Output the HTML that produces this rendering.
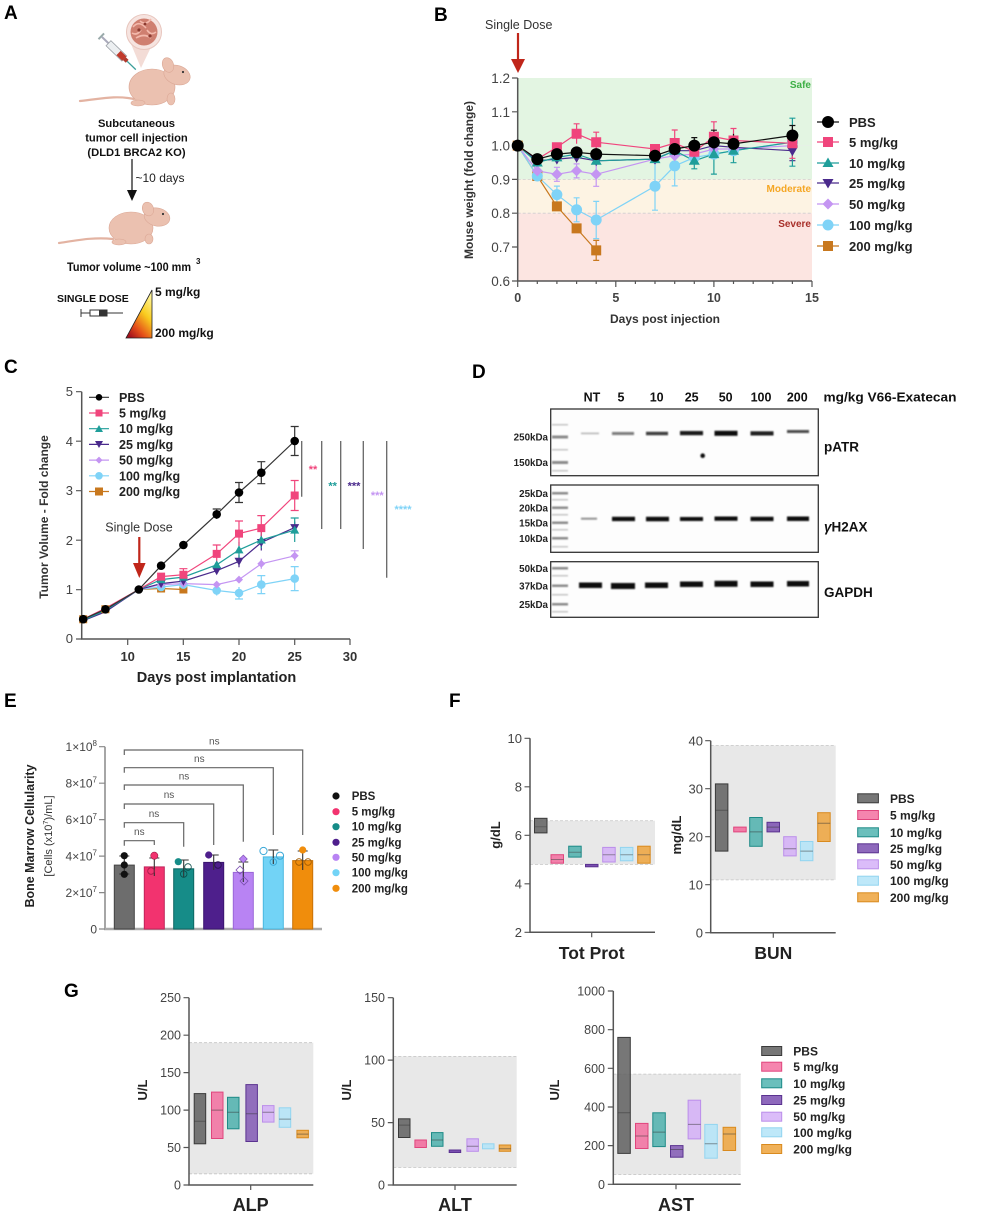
<!DOCTYPE html>
<html><head><meta charset="utf-8">
<style>
html,body{margin:0;padding:0;background:#fff;}
svg{display:block;font-family:"Liberation Sans",Arial,sans-serif;}
</style></head><body>
<svg width="983" height="1217" viewBox="0 0 983 1217" xmlns="http://www.w3.org/2000/svg">
<defs>
<linearGradient id="tri" x1="0.8" y1="0" x2="0.2" y2="1">
<stop offset="0" stop-color="#fff7a0"/><stop offset="0.4" stop-color="#f9cc1e"/><stop offset="0.75" stop-color="#e5501a"/><stop offset="1" stop-color="#a3101c"/>
</linearGradient>
<filter id="bl" x="-20%" y="-150%" width="140%" height="400%"><feGaussianBlur stdDeviation="0.9"/></filter>
</defs>

<!-- Panel letters -->
<g font-weight="bold" font-size="19" fill="#000">
<text x="4" y="19">A</text>
<text x="434" y="21">B</text>
<text x="4" y="373">C</text>
<text x="472" y="378">D</text>
<text x="4" y="707">E</text>
<text x="449" y="707">F</text>
<text x="64" y="997">G</text>
</g>

<!-- ================= PANEL A ================= -->
<g>
<path d="M131,44 L141,68 L152,45 Z" fill="#f3dcd6"/>
<circle cx="144" cy="32" r="17.5" fill="#f6e4e0" stroke="#e8c6be" stroke-width="1"/>
<circle cx="144" cy="32" r="13.5" fill="#cf7f70"/>
<path d="M133,27 q6,-7 13,1 M136,38 q8,-5 15,0 M140,21 q6,5 11,-2 M132,33 q5,3 9,-3 M147,30 q4,6 9,2" stroke="#f3b9ac" stroke-width="1.6" fill="none"/>
<circle cx="139" cy="30" r="1.6" fill="#8c3a30"/><circle cx="150" cy="36" r="1.6" fill="#8c3a30"/><circle cx="145" cy="24" r="1.4" fill="#8c3a30"/>
<!-- syringe -->
<g transform="translate(102,37) rotate(44)">
<rect x="-2" y="-4" width="2" height="8" fill="#9aa"/>
<rect x="0" y="-1" width="9" height="2" fill="#aab"/>
<rect x="9" y="-3.5" width="22" height="7" fill="#eceff1" stroke="#9a9fa5" stroke-width="0.8"/>
<rect x="23" y="-3" width="8" height="6" fill="#c0392b"/>
<rect x="31" y="-2" width="4" height="4" fill="#b03a2e"/>
<line x1="35" y1="0" x2="47" y2="0" stroke="#3a9e9a" stroke-width="1.3"/>
</g>
<!-- mouse 1 -->
<g>
<path d="M134,99 C115,95 100,99 80,101" fill="none" stroke="#e3b3a2" stroke-width="2.2" stroke-linecap="round"/>
<g fill="#ebc1b0" stroke="#dba896" stroke-width="0.6">
<ellipse cx="152" cy="87" rx="23" ry="18"/>
<ellipse cx="138" cy="103" rx="7" ry="3"/>
<ellipse cx="171" cy="99" rx="4" ry="6"/>
<ellipse cx="177" cy="75" rx="13.5" ry="9.5" transform="rotate(18 177 75)"/>
<ellipse cx="168" cy="65" rx="5.5" ry="7.5" transform="rotate(-20 168 65)"/>
</g>
<circle cx="183" cy="72" r="1.1" fill="#333"/>
</g>
<text x="136.5" y="127" font-size="11.2" font-weight="bold" text-anchor="middle" fill="#111">Subcutaneous</text>
<text x="136.5" y="141.5" font-size="11.2" font-weight="bold" text-anchor="middle" fill="#111">tumor cell injection</text>
<text x="136.5" y="156" font-size="11.2" font-weight="bold" text-anchor="middle" fill="#111">(DLD1 BRCA2 KO)</text>
<line x1="132" y1="159" x2="132" y2="192" stroke="#111" stroke-width="1.2"/>
<polygon points="127,190 137,190 132,201" fill="#111"/>
<text x="135.5" y="182" font-size="12" fill="#222">~10 days</text>
<!-- mouse 2 -->
<g transform="translate(-21,140)">
<path d="M134,99 C115,97 100,100 80,103" fill="none" stroke="#e3b3a2" stroke-width="2.2" stroke-linecap="round"/>
<g fill="#ebc1b0" stroke="#dba896" stroke-width="0.6">
<ellipse cx="152" cy="88" rx="22" ry="16"/>
<ellipse cx="140" cy="102" rx="7" ry="3"/>
<ellipse cx="170" cy="99" rx="4" ry="5"/>
<ellipse cx="178" cy="77" rx="13" ry="9" transform="rotate(12 178 77)"/>
<ellipse cx="169" cy="69" rx="5.5" ry="7" transform="rotate(-20 169 69)"/>
</g>
<circle cx="184" cy="74" r="1.1" fill="#333"/>
</g>
<text x="67" y="271" font-size="12.3" font-weight="bold" fill="#111" textLength="124" lengthAdjust="spacingAndGlyphs">Tumor volume ~100 mm</text>
<text x="196" y="264" font-size="8" font-weight="bold" fill="#111">3</text>
<text x="57" y="302" font-size="10.5" font-weight="bold" fill="#111">SINGLE DOSE</text>
<!-- small syringe -->
<g stroke="#333" stroke-width="1" fill="none">
<path d="M81,309 v8 M81,313 h9 M90,310 h17 v6 h-17 z M107,313 h16"/>
</g>
<rect x="99" y="310.5" width="8" height="5" fill="#333"/>
<polygon points="152,290 126,338 152,338" fill="url(#tri)" stroke="#222" stroke-width="0.8"/>
<text x="155" y="296" font-size="12" font-weight="bold" fill="#111">5 mg/kg</text>
<text x="155" y="337" font-size="12" font-weight="bold" fill="#111">200 mg/kg</text>
</g>

<!-- ================= PANEL B ================= -->
<g>
<text x="485" y="29" font-size="12.5" fill="#333">Single Dose</text>
<line x1="518" y1="33" x2="518" y2="62" stroke="#c0261a" stroke-width="2.2"/>
<polygon points="511,59 525,59 518,73" fill="#c0261a"/>
<rect x="517.7" y="78" width="294.3" height="101.4" fill="#e3f5e2"/>
<rect x="517.7" y="179.4" width="294.3" height="33.8" fill="#fdf3e3"/>
<rect x="517.7" y="213.2" width="294.3" height="67.8" fill="#fce5e1"/>
<path d="M517.7,179.4H812M517.7,213.2H812" stroke="#cfcfcf" stroke-width="0.8" stroke-dasharray="3,2"/>
<path d="M517.7,145.6H812" stroke="#e8f0e8" stroke-width="0.8"/>
<text x="811" y="88" font-size="10" font-weight="bold" fill="#3daf45" text-anchor="end">Safe</text>
<text x="811" y="192" font-size="10" font-weight="bold" fill="#f5a623" text-anchor="end">Moderate</text>
<text x="811" y="227" font-size="10" font-weight="bold" fill="#a8302a" text-anchor="end">Severe</text>
<path d="M517.7,78V281H812" stroke="#555" stroke-width="1.5" fill="none"/>
<path d="M512,78h5.7M512,111.8h5.7M512,145.6h5.7M512,179.4h5.7M512,213.2h5.7M512,247h5.7M512,281h5.7 M517.7,281v6M615.8,281v6M713.9,281v6M812,281v6 M537.3,281v3M556.9,281v3M576.6,281v3M596.2,281v3M635.4,281v3M655,281v3M674.7,281v3M694.3,281v3M733.5,281v3M753.2,281v3M772.8,281v3M792.4,281v3" stroke="#555" stroke-width="1.2"/>
<g font-size="13.5" fill="#444" text-anchor="end">
<text x="510" y="83">1.2</text><text x="510" y="116.8">1.1</text><text x="510" y="150.6">1.0</text><text x="510" y="184.4">0.9</text><text x="510" y="218.2">0.8</text><text x="510" y="252">0.7</text><text x="510" y="286">0.6</text>
</g>
<g font-size="12.5" font-weight="bold" fill="#444" text-anchor="middle">
<text x="517.7" y="302">0</text><text x="615.8" y="302">5</text><text x="713.9" y="302">10</text><text x="812" y="302">15</text>
</g>
<text x="665" y="323" font-size="12" font-weight="bold" fill="#333" text-anchor="middle">Days post injection</text>
<text transform="translate(473,180) rotate(-90)" font-size="12" font-weight="bold" fill="#333" text-anchor="middle">Mouse weight (fold change)</text>

<!-- series lines -->
<g fill="none" stroke-width="1.2">
<polyline stroke="#c8781e" points="517.7,145.6 537.3,176 556.9,206.4 576.6,228.4 596.2,250.4"/>
<polyline stroke="#7fd3f7" points="517.7,145.6 537.3,176 556.9,194.6 576.6,209.8 596.2,220 655,186.2 674.7,165.9 694.3,157.4 713.9,154.1 733.5,150.7 792.4,142.2"/>
<polyline stroke="#c495f2" points="517.7,145.6 537.3,170.9 556.9,174.3 576.6,170.9 596.2,174.3 655,159.1 674.7,155.7 694.3,154.1 713.9,149 733.5,149 792.4,145.6"/>
<polyline stroke="#4a2a8c" points="517.7,145.6 537.3,160.8 556.9,159.1 576.6,157.4 596.2,160.8 655,159.1 674.7,150.7 694.3,150.7 713.9,145.6 733.5,147.3 792.4,150.7"/>
<polyline stroke="#1f9e9a" points="517.7,145.6 537.3,162.5 556.9,157.4 576.6,154.1 596.2,160.8 655,159.1 674.7,150.7 694.3,160.8 713.9,154.1 733.5,150.7 792.4,142.2"/>
<polyline stroke="#f0457c" points="517.7,145.6 537.3,159.1 556.9,147.3 576.6,133.8 596.2,142.2 655,149 674.7,143 694.3,151.7 713.9,136.8 733.5,140.5 792.4,143.3"/>
<polyline stroke="#111" points="517.7,145.6 537.3,159.1 556.9,154.1 576.6,152.4 596.2,154.1 655,155.7 674.7,149 694.3,145.6 713.9,142.2 733.5,143.9 792.4,135.5"/>
</g>
<!-- error bars -->
<g fill="none" stroke-width="1.2">
<path stroke="#c8781e" d="M596.2,240.4V260.4M593.2,240.4h6M593.2,260.4h6"/>
<path stroke="#7fd3f7" d="M556.9,186.1V203.1M553.9,186.1h6M553.9,203.1h6M576.6,197.8V221.8M573.6,197.8h6M573.6,221.8h6M596.2,201.4V238.6M593.2,201.4h6M593.2,238.6h6M655,162.2V210.2M652,162.2h6M652,210.2h6M674.7,145.9V185.9M671.7,145.9h6M671.7,185.9h6"/>
<path stroke="#c495f2" d="M537.3,163.9V177.9M534.3,163.9h6M534.3,177.9h6M556.9,167.3V181.3M553.9,167.3h6M553.9,181.3h6M576.6,163.9V177.9M573.6,163.9h6M573.6,177.9h6M596.2,162.3V186.3M593.2,162.3h6M593.2,186.3h6M713.9,139V159M710.9,139h6"/>
<path stroke="#4a2a8c" d="M792.4,140.7V160.7M789.4,160.7h6"/>
<path stroke="#1f9e9a" d="M694.3,152.8V168.8M691.3,168.8h6M713.9,134.1V174.1M710.9,134.1h6M710.9,174.1h6M733.5,138.7V162.7M730.5,162.7h6M792.4,118.2V166.2M789.4,118.2h6M789.4,166.2h6"/>
<path stroke="#f0457c" d="M576.6,123.8V143.8M573.6,123.8h6M596.2,132.2V152.2M593.2,132.2h6M674.7,130V156M671.7,130h6M713.9,121.8V151.8M710.9,121.8h6M733.5,128.5V152.5M730.5,128.5h6M792.4,128.3V158.3M789.4,158.3h6"/>
<path stroke="#111" d="M655,147.7V163.7M674.7,141V157M694.3,137.6V153.6M691.3,137.6h6M713.9,130.2V154.2M710.9,130.2h6M733.5,133.9V153.9M792.4,125.5V145.5M789.4,125.5h6"/>
</g>
<!-- markers -->
<path fill="#c8781e" d="M517.7,145.6m-5,-5h10v10h-10zM537.3,176m-5,-5h10v10h-10zM556.9,206.4m-5,-5h10v10h-10zM576.6,228.4m-5,-5h10v10h-10zM596.2,250.4m-5,-5h10v10h-10z"/>
<path fill="#7fd3f7" d="M517.7,145.6m-5.5,0a5.5,5.5 0 1,0 11,0a5.5,5.5 0 1,0 -11,0M537.3,176m-5.5,0a5.5,5.5 0 1,0 11,0a5.5,5.5 0 1,0 -11,0M556.9,194.6m-5.5,0a5.5,5.5 0 1,0 11,0a5.5,5.5 0 1,0 -11,0M576.6,209.8m-5.5,0a5.5,5.5 0 1,0 11,0a5.5,5.5 0 1,0 -11,0M596.2,220m-5.5,0a5.5,5.5 0 1,0 11,0a5.5,5.5 0 1,0 -11,0M655,186.2m-5.5,0a5.5,5.5 0 1,0 11,0a5.5,5.5 0 1,0 -11,0M674.7,165.9m-5.5,0a5.5,5.5 0 1,0 11,0a5.5,5.5 0 1,0 -11,0M694.3,157.4m-5.5,0a5.5,5.5 0 1,0 11,0a5.5,5.5 0 1,0 -11,0M713.9,154.1m-5.5,0a5.5,5.5 0 1,0 11,0a5.5,5.5 0 1,0 -11,0M733.5,150.7m-5.5,0a5.5,5.5 0 1,0 11,0a5.5,5.5 0 1,0 -11,0M792.4,142.2m-5.5,0a5.5,5.5 0 1,0 11,0a5.5,5.5 0 1,0 -11,0"/>
<path fill="#c495f2" d="M537.3,170.9m0,-5.5l5.5,5.5-5.5,5.5-5.5,-5.5zM556.9,174.3m0,-5.5l5.5,5.5-5.5,5.5-5.5,-5.5zM576.6,170.9m0,-5.5l5.5,5.5-5.5,5.5-5.5,-5.5zM596.2,174.3m0,-5.5l5.5,5.5-5.5,5.5-5.5,-5.5zM655,159.1m0,-5.5l5.5,5.5-5.5,5.5-5.5,-5.5zM674.7,155.7m0,-5.5l5.5,5.5-5.5,5.5-5.5,-5.5zM694.3,154.1m0,-5.5l5.5,5.5-5.5,5.5-5.5,-5.5zM713.9,149m0,-5.5l5.5,5.5-5.5,5.5-5.5,-5.5zM733.5,149m0,-5.5l5.5,5.5-5.5,5.5-5.5,-5.5zM792.4,145.6m0,-5.5l5.5,5.5-5.5,5.5-5.5,-5.5z"/>
<path fill="#4a2a8c" d="M537.3,160.8m0,5.5l5.5,-9.5h-11zM556.9,159.1m0,5.5l5.5,-9.5h-11zM576.6,157.4m0,5.5l5.5,-9.5h-11zM596.2,160.8m0,5.5l5.5,-9.5h-11zM655,159.1m0,5.5l5.5,-9.5h-11zM674.7,150.7m0,5.5l5.5,-9.5h-11zM694.3,150.7m0,5.5l5.5,-9.5h-11zM713.9,145.6m0,5.5l5.5,-9.5h-11zM733.5,147.3m0,5.5l5.5,-9.5h-11zM792.4,150.7m0,5.5l5.5,-9.5h-11z"/>
<path fill="#1f9e9a" d="M537.3,162.5m0,-5.5l5.5,9.5h-11zM556.9,157.4m0,-5.5l5.5,9.5h-11zM576.6,154.1m0,-5.5l5.5,9.5h-11zM596.2,160.8m0,-5.5l5.5,9.5h-11zM655,159.1m0,-5.5l5.5,9.5h-11zM674.7,150.7m0,-5.5l5.5,9.5h-11zM694.3,160.8m0,-5.5l5.5,9.5h-11zM713.9,154.1m0,-5.5l5.5,9.5h-11zM733.5,150.7m0,-5.5l5.5,9.5h-11zM792.4,142.2m0,-5.5l5.5,9.5h-11z"/>
<path fill="#f0457c" d="M556.9,147.3m-5,-5h10v10h-10zM576.6,133.8m-5,-5h10v10h-10zM596.2,142.2m-5,-5h10v10h-10zM655,149m-5,-5h10v10h-10zM674.7,143m-5,-5h10v10h-10zM694.3,151.7m-5,-5h10v10h-10zM713.9,136.8m-5,-5h10v10h-10zM733.5,140.5m-5,-5h10v10h-10zM792.4,143.3m-5,-5h10v10h-10z"/>
<path fill="#000" d="M517.7,145.6m-6,0a6,6 0 1,0 12,0a6,6 0 1,0 -12,0M537.3,159.1m-6,0a6,6 0 1,0 12,0a6,6 0 1,0 -12,0M556.9,154.1m-6,0a6,6 0 1,0 12,0a6,6 0 1,0 -12,0M576.6,152.4m-6,0a6,6 0 1,0 12,0a6,6 0 1,0 -12,0M596.2,154.1m-6,0a6,6 0 1,0 12,0a6,6 0 1,0 -12,0M655,155.7m-6,0a6,6 0 1,0 12,0a6,6 0 1,0 -12,0M674.7,149m-6,0a6,6 0 1,0 12,0a6,6 0 1,0 -12,0M694.3,145.6m-6,0a6,6 0 1,0 12,0a6,6 0 1,0 -12,0M713.9,142.2m-6,0a6,6 0 1,0 12,0a6,6 0 1,0 -12,0M733.5,143.9m-6,0a6,6 0 1,0 12,0a6,6 0 1,0 -12,0M792.4,135.5m-6,0a6,6 0 1,0 12,0a6,6 0 1,0 -12,0"/>
<!-- legend B -->
<g stroke-width="1.2">
<line x1="817" y1="122" x2="839" y2="122" stroke="#111"/>
<line x1="817" y1="142" x2="839" y2="142" stroke="#f0457c"/>
<line x1="817" y1="163" x2="839" y2="163" stroke="#1f9e9a"/>
<line x1="817" y1="183" x2="839" y2="183" stroke="#4a2a8c"/>
<line x1="817" y1="204" x2="839" y2="204" stroke="#c495f2"/>
<line x1="817" y1="225" x2="839" y2="225" stroke="#7fd3f7"/>
<line x1="817" y1="246" x2="839" y2="246" stroke="#c8781e"/>
</g>
<circle cx="828" cy="122" r="6" fill="#000"/>
<rect x="823" y="137" width="10" height="10" fill="#f0457c"/>
<path d="M828,157.5l5.5,9.5h-11z" fill="#1f9e9a"/>
<path d="M828,188.5l5.5,-9.5h-11z" fill="#4a2a8c"/>
<path d="M828,198.5l5.5,5.5-5.5,5.5-5.5,-5.5z" fill="#c495f2"/>
<circle cx="828" cy="225" r="5.5" fill="#7fd3f7"/>
<rect x="823" y="241" width="10" height="10" fill="#c8781e"/>
<g font-size="13" font-weight="bold" fill="#222">
<text x="849" y="127">PBS</text><text x="849" y="147">5 mg/kg</text><text x="849" y="168">10 mg/kg</text><text x="849" y="188">25 mg/kg</text><text x="849" y="209">50 mg/kg</text><text x="849" y="230">100 mg/kg</text><text x="849" y="251">200 mg/kg</text>
</g>
</g>

<!-- ================= PANEL C ================= -->
<g>
<path d="M81.7,391.7V639H350" stroke="#555" stroke-width="1.5" fill="none"/>
<path d="M76,391.7h5.7M76,441.2h5.7M76,490.7h5.7M76,540.2h5.7M76,589.7h5.7M76,639h5.7 M127.7,639v6M183.3,639v6M239,639v6M294.7,639v6M350,639v6" stroke="#555" stroke-width="1.2"/>
<g font-size="13" fill="#444" text-anchor="end">
<text x="73" y="396">5</text><text x="73" y="446">4</text><text x="73" y="495">3</text><text x="73" y="545">2</text><text x="73" y="594">1</text><text x="73" y="643">0</text>
</g>
<g font-size="13" font-weight="bold" fill="#333" text-anchor="middle">
<text x="127.7" y="661">10</text><text x="183.3" y="661">15</text><text x="239" y="661">20</text><text x="294.7" y="661">25</text><text x="350" y="661">30</text>
</g>
<text x="216.5" y="682" font-size="14.5" font-weight="bold" fill="#222" text-anchor="middle">Days post implantation</text>
<text transform="translate(48,517) rotate(-90)" font-size="12" font-weight="bold" fill="#333" text-anchor="middle">Tumor Volume - Fold change</text>
<text x="139" y="531.5" font-size="12.5" fill="#333" text-anchor="middle">Single Dose</text>
<line x1="139.3" y1="537" x2="139.3" y2="566" stroke="#c0261a" stroke-width="2.2"/>
<polygon points="133,563 145.6,563 139.3,578" fill="#c0261a"/>

<g fill="none" stroke-width="1.2">
<polyline stroke="#c8781e" points="83.2,619.2 105.4,609.3 138.8,589.5 161.1,588.5 183.4,589.5"/>
<polyline stroke="#7fd3f7" points="83.2,620.2 105.4,610.3 138.8,589.5 161.1,587 183.4,584.6 216.7,590.5 239,593 261.3,584.6 294.7,578.6"/>
<polyline stroke="#c495f2" points="83.2,620.2 105.4,610.8 138.8,589.5 161.1,584.6 183.4,583.6 216.7,584.6 239,579.6 261.3,563.8 294.7,555.8"/>
<polyline stroke="#4a2a8c" points="83.2,620.7 105.4,611.8 138.8,589.5 161.1,583.6 183.4,581.1 216.7,570.7 239,561.3 261.3,542.5 294.7,527.6"/>
<polyline stroke="#1f9e9a" points="83.2,620.2 105.4,610.3 138.8,589.5 161.1,579.6 183.4,577.1 216.7,564.8 239,549.9 261.3,540 294.7,530.1"/>
<polyline stroke="#f0457c" points="83.2,619.2 105.4,608.3 138.8,589.5 161.1,576.6 183.4,574.7 216.7,553.9 239,533.6 261.3,528.1 294.7,495.5"/>
<polyline stroke="#333" points="83.2,619.2 105.4,609.3 138.8,589.5 161.1,565.7 183.4,545 216.7,514.3 239,492.5 261.3,472.7 294.7,441"/>
</g>
<g fill="none" stroke-width="1.2">
<path stroke="#7fd3f7" d="M216.7,585.5V595.5M239,587V599M235,599h8M261.3,575.6V593.6M257.3,575.6h8M257.3,593.6h8M294.7,566.6V590.6M290.7,566.6h8M290.7,590.6h8"/>
<path stroke="#c495f2" d="M261.3,558.8V568.8M294.7,550.8V560.8M290.7,550.8h8"/>
<path stroke="#4a2a8c" d="M239,555.3V567.3M261.3,534.5V550.5M294.7,521.6V533.6"/>
<path stroke="#1f9e9a" d="M239,541.9V557.9M261.3,532V548M294.7,518V542M290.7,518h8"/>
<path stroke="#f0457c" d="M183.4,568.7V580.7M179.4,568.7h8M216.7,545V563M212.7,545h8M239,521V546M235,521h8M261.3,515.6V540.6M257.3,515.6h8M294.7,480.5V510.5M290.7,480.5h8M290.7,510.5h8"/>
<path stroke="#333" d="M216.7,509V519M212.7,509h8M239,482.5V502.5M235,482.5h8M235,502.5h8M261.3,461.7V483.7M257.3,461.7h8M257.3,483.7h8M294.7,426.5V455.5M290.7,426.5h8M290.7,455.5h8"/>
</g>
<path fill="#c8781e" d="M83.2,619.2m-4,-4h8v8h-8zM105.4,609.3m-4,-4h8v8h-8zM161.1,588.5m-4,-4h8v8h-8zM183.4,589.5m-4,-4h8v8h-8z"/>
<path fill="#7fd3f7" d="M161.1,587m-4.3,0a4.3,4.3 0 1,0 8.6,0a4.3,4.3 0 1,0 -8.6,0M183.4,584.6m-4.3,0a4.3,4.3 0 1,0 8.6,0a4.3,4.3 0 1,0 -8.6,0M216.7,590.5m-4.3,0a4.3,4.3 0 1,0 8.6,0a4.3,4.3 0 1,0 -8.6,0M239,593m-4.3,0a4.3,4.3 0 1,0 8.6,0a4.3,4.3 0 1,0 -8.6,0M261.3,584.6m-4.3,0a4.3,4.3 0 1,0 8.6,0a4.3,4.3 0 1,0 -8.6,0M294.7,578.6m-4.3,0a4.3,4.3 0 1,0 8.6,0a4.3,4.3 0 1,0 -8.6,0"/>
<path fill="#c495f2" d="M161.1,584.6m0,-4l4,4-4,4-4,-4zM183.4,583.6m0,-4l4,4-4,4-4,-4zM216.7,584.6m0,-4l4,4-4,4-4,-4zM239,579.6m0,-4l4,4-4,4-4,-4zM261.3,563.8m0,-4l4,4-4,4-4,-4zM294.7,555.8m0,-4l4,4-4,4-4,-4z"/>
<path fill="#4a2a8c" d="M161.1,583.6m0,4.5l4.5,-8h-9zM183.4,581.1m0,4.5l4.5,-8h-9zM216.7,570.7m0,4.5l4.5,-8h-9zM239,561.3m0,4.5l4.5,-8h-9zM261.3,542.5m0,4.5l4.5,-8h-9zM294.7,527.6m0,4.5l4.5,-8h-9z"/>
<path fill="#1f9e9a" d="M161.1,579.6m0,-4.5l4.5,8h-9zM183.4,577.1m0,-4.5l4.5,8h-9zM216.7,564.8m0,-4.5l4.5,8h-9zM239,549.9m0,-4.5l4.5,8h-9zM261.3,540m0,-4.5l4.5,8h-9zM294.7,530.1m0,-4.5l4.5,8h-9z"/>
<path fill="#f0457c" d="M161.1,576.6m-4,-4h8v8h-8zM183.4,574.7m-4,-4h8v8h-8zM216.7,553.9m-4,-4h8v8h-8zM239,533.6m-4,-4h8v8h-8zM261.3,528.1m-4,-4h8v8h-8zM294.7,495.5m-4,-4h8v8h-8z"/>
<path fill="#000" d="M83.2,619.2m-4.3,0a4.3,4.3 0 1,0 8.6,0a4.3,4.3 0 1,0 -8.6,0M105.4,609.3m-4.3,0a4.3,4.3 0 1,0 8.6,0a4.3,4.3 0 1,0 -8.6,0M138.8,589.5m-4.3,0a4.3,4.3 0 1,0 8.6,0a4.3,4.3 0 1,0 -8.6,0M161.1,565.7m-4.3,0a4.3,4.3 0 1,0 8.6,0a4.3,4.3 0 1,0 -8.6,0M183.4,545m-4.3,0a4.3,4.3 0 1,0 8.6,0a4.3,4.3 0 1,0 -8.6,0M216.7,514.3m-4.3,0a4.3,4.3 0 1,0 8.6,0a4.3,4.3 0 1,0 -8.6,0M239,492.5m-4.3,0a4.3,4.3 0 1,0 8.6,0a4.3,4.3 0 1,0 -8.6,0M261.3,472.7m-4.3,0a4.3,4.3 0 1,0 8.6,0a4.3,4.3 0 1,0 -8.6,0M294.7,441m-4.3,0a4.3,4.3 0 1,0 8.6,0a4.3,4.3 0 1,0 -8.6,0"/>
<!-- legend C -->
<g stroke-width="1.2">
<line x1="89" y1="397.3" x2="109" y2="397.3" stroke="#333"/>
<line x1="89" y1="413" x2="109" y2="413" stroke="#f0457c"/>
<line x1="89" y1="428.7" x2="109" y2="428.7" stroke="#1f9e9a"/>
<line x1="89" y1="444.4" x2="109" y2="444.4" stroke="#4a2a8c"/>
<line x1="89" y1="460.1" x2="109" y2="460.1" stroke="#c495f2"/>
<line x1="89" y1="475.8" x2="109" y2="475.8" stroke="#7fd3f7"/>
<line x1="89" y1="491.5" x2="109" y2="491.5" stroke="#c8781e"/>
</g>
<circle cx="99" cy="397.3" r="3.3" fill="#000"/>
<rect x="95.5" y="409.5" width="7" height="7" fill="#f0457c"/>
<path d="M99,425l4,7h-8z" fill="#1f9e9a"/>
<path d="M99,448l4,-7h-8z" fill="#4a2a8c"/>
<path d="M99,456.6l3.5,3.5-3.5,3.5-3.5,-3.5z" fill="#c495f2"/>
<circle cx="99" cy="475.8" r="3.8" fill="#7fd3f7"/>
<rect x="95" y="487.5" width="8" height="8" fill="#c8781e"/>
<g font-size="12.5" font-weight="bold" fill="#222">
<text x="119" y="402">PBS</text><text x="119" y="417.5">5 mg/kg</text><text x="119" y="433.2">10 mg/kg</text><text x="119" y="448.9">25 mg/kg</text><text x="119" y="464.6">50 mg/kg</text><text x="119" y="480.3">100 mg/kg</text><text x="119" y="496">200 mg/kg</text>
</g>
<!-- significance -->
<path d="M301.7,441V496.7M321.7,441V529M340.7,441V529M363.3,441V549M386.7,441V577.7" stroke="#666" stroke-width="1.3"/>
<g font-size="11" font-weight="bold" text-anchor="middle">
<text x="313" y="473" fill="#f0457c">**</text>
<text x="332.7" y="489.7" fill="#1f9e9a">**</text>
<text x="354" y="489.7" fill="#4a2a8c">***</text>
<text x="377.3" y="499" fill="#c495f2">***</text>
<text x="403" y="513" fill="#7fd3f7">****</text>
</g>
</g>

<!-- ================= PANEL D ================= -->
<g>
<g font-size="12.5" font-weight="bold" fill="#111" text-anchor="middle">
<text x="592" y="401.5">NT</text><text x="621" y="401.5">5</text><text x="656.7" y="401.5">10</text><text x="691.7" y="401.5">25</text><text x="725.7" y="401.5">50</text><text x="761" y="401.5">100</text><text x="797.3" y="401.5">200</text>
</g>
<text x="823.5" y="401.5" font-size="12.5" font-weight="bold" fill="#111" textLength="133" lengthAdjust="spacingAndGlyphs">mg/kg V66-Exatecan</text>
<rect x="550.7" y="409" width="267.6" height="66.7" fill="#fdfdfd" stroke="#333" stroke-width="1.3"/>
<rect x="550.7" y="485" width="267.6" height="67.3" fill="#fdfdfd" stroke="#333" stroke-width="1.3"/>
<rect x="550.7" y="561.7" width="267.6" height="55.6" fill="#fdfdfd" stroke="#333" stroke-width="1.3"/>
<g fill="#8a8a8a" filter="url(#bl)">
<rect x="552" y="435.5" width="16" height="3"/><rect x="552" y="461" width="16" height="3"/><rect x="552" y="424" width="16" height="1.5" opacity="0.5"/><rect x="552" y="449" width="16" height="1.5" opacity="0.5"/><rect x="552" y="470" width="16" height="1.5" opacity="0.5"/>
<rect x="552" y="492" width="16" height="2.5"/><rect x="552" y="506.5" width="16" height="2.5"/><rect x="552" y="521.5" width="16" height="2.5"/><rect x="552" y="537" width="16" height="2.5"/><rect x="552" y="499" width="16" height="1.5" opacity="0.5"/><rect x="552" y="514" width="16" height="1.5" opacity="0.5"/><rect x="552" y="529" width="16" height="1.5" opacity="0.5"/><rect x="552" y="546" width="16" height="1.5" opacity="0.5"/>
<rect x="552" y="567" width="16" height="2.5"/><rect x="552" y="584.5" width="16" height="2.5"/><rect x="552" y="603" width="16" height="2.5"/><rect x="552" y="575" width="16" height="1.5" opacity="0.5"/><rect x="552" y="594" width="16" height="1.5" opacity="0.5"/><rect x="552" y="611" width="16" height="1.5" opacity="0.5"/>
</g>
<g fill="#111" filter="url(#bl)">
<rect x="581" y="432.5" width="18" height="1.8" opacity="0.25"/>
<rect x="612" y="432" width="22" height="3" opacity="0.55"/>
<rect x="646" y="431.8" width="22" height="3.4" opacity="0.8"/>
<rect x="680" y="431" width="23" height="4.2" opacity="0.95"/>
<rect x="714.5" y="430.8" width="23" height="5"/>
<rect x="750.5" y="431.3" width="23" height="4.2" opacity="0.92"/>
<rect x="787" y="430" width="22" height="3" opacity="0.75"/>
<circle cx="702.7" cy="455.7" r="2.3"/>
<rect x="581" y="517.8" width="16" height="1.8" opacity="0.5"/>
<rect x="612" y="516.8" width="23" height="4.3"/>
<rect x="646" y="516.8" width="23" height="4.5"/>
<rect x="680" y="517" width="23" height="4"/>
<rect x="714.5" y="516.5" width="23" height="4.3"/>
<rect x="750.5" y="516.8" width="23" height="4.3"/>
<rect x="787" y="516.5" width="22" height="4.5"/>
<rect x="579" y="582.5" width="23" height="5.5"/>
<rect x="611" y="583" width="24" height="6"/>
<rect x="645" y="582.5" width="23" height="5.5"/>
<rect x="680" y="581.5" width="23" height="5.5"/>
<rect x="714.5" y="580.8" width="23" height="6"/>
<rect x="750.5" y="581.5" width="23" height="5.5"/>
<rect x="787" y="581" width="22" height="5.5"/>
</g>
<g font-size="9.8" font-weight="bold" fill="#222" text-anchor="end">
<text x="548" y="440.5">250kDa</text><text x="548" y="466">150kDa</text>
<text x="548" y="497">25kDa</text><text x="548" y="511.5">20kDa</text><text x="548" y="526.5">15kDa</text><text x="548" y="542">10kDa</text>
<text x="548" y="572">50kDa</text><text x="548" y="589.5">37kDa</text><text x="548" y="608">25kDa</text>
</g>
<g font-size="13.5" font-weight="bold" fill="#111">
<text x="824" y="451.5">pATR</text><text x="824" y="531.5"><tspan font-style="italic">γ</tspan>H2AX</text><text x="824" y="597">GAPDH</text>
</g>
</g>

<!-- ================= PANEL E ================= -->
<g>
<path d="M105,746.7V929" stroke="#888" stroke-width="1.5"/>
<path d="M104,929H322" stroke="#aaa" stroke-width="2.5"/>
<path d="M99,746.7h6M99,783.2h6M99,819.6h6M99,856.1h6M99,892.6h6M99,929h6" stroke="#888" stroke-width="1.2"/>
<g font-size="12" fill="#444" text-anchor="end">
<text x="97" y="751">1×10<tspan font-size="8" dy="-5">8</tspan></text>
<text x="97" y="787.5">8×10<tspan font-size="8" dy="-5">7</tspan></text>
<text x="97" y="824">6×10<tspan font-size="8" dy="-5">7</tspan></text>
<text x="97" y="860.5">4×10<tspan font-size="8" dy="-5">7</tspan></text>
<text x="97" y="897">2×10<tspan font-size="8" dy="-5">7</tspan></text>
<text x="97" y="933.5">0</text>
</g>
<text transform="translate(34,836) rotate(-90)" font-size="12.5" font-weight="bold" fill="#222" text-anchor="middle">Bone Marrow Cellularity</text>
<text transform="translate(52,836) rotate(-90)" font-size="11" fill="#333" text-anchor="middle">[Cells (x10<tspan font-size="7.5" dy="-4">7</tspan><tspan dy="4">)/mL]</tspan></text>
<g stroke-width="1">
<rect x="114.3" y="865.1" width="20" height="63.9" fill="#6d6d6d" stroke="#444"/>
<rect x="144.3" y="866.9" width="20" height="62.1" fill="#f2336f" stroke="#c0245a"/>
<rect x="173.7" y="868.8" width="20" height="60.2" fill="#168c88" stroke="#0d6663"/>
<rect x="203.7" y="862.4" width="20" height="66.6" fill="#4e1f8c" stroke="#3a1570"/>
<rect x="233.3" y="872.4" width="20" height="56.6" fill="#b883f3" stroke="#9a66d8"/>
<rect x="263.3" y="856.9" width="20" height="72.1" fill="#72d3f6" stroke="#4bb8e0"/>
<rect x="292.7" y="860.6" width="20" height="68.4" fill="#f08d0c" stroke="#c87208"/>
</g>
<path d="M124.3,856V874M119.3,856h10M119.3,874h10M154.3,858V876M149.3,858h10M183.7,860V877M178.7,860h10M213.7,855V870M208.7,855h10M243.3,862V882M238.3,862h10M273.3,850V864M268.3,850h10M302.7,851V870M297.7,851h10" stroke="#333" stroke-width="1.1" fill="none"/>
<g>
<circle cx="124.3" cy="855.7" r="3.6" fill="#111"/><circle cx="124.3" cy="865" r="3.6" fill="#111"/><circle cx="124.3" cy="874.3" r="3.6" fill="#111"/>
<circle cx="154.3" cy="855.7" r="3.6" fill="#f2336f" stroke="#a01a48" stroke-width="0.6"/><circle cx="151" cy="871" r="3.3" fill="none" stroke="#a01a48" stroke-width="0.8"/>
<circle cx="178.3" cy="861.7" r="3.6" fill="#168c88"/><circle cx="188" cy="867" r="3.3" fill="none" stroke="#0a4c4a" stroke-width="0.8"/><circle cx="183.7" cy="874" r="3.3" fill="none" stroke="#0a4c4a" stroke-width="0.8"/>
<circle cx="208.7" cy="855" r="3.6" fill="#4e1f8c"/><circle cx="218" cy="865" r="3.3" fill="none" stroke="#2a0f50" stroke-width="0.8"/>
<path d="M243.3,855l4,4-4,4-4,-4z" fill="#b883f3" stroke="#7a4cb0" stroke-width="0.6"/><path d="M240,866l4,4-4,4-4,-4z M244,877l4,4-4,4-4,-4z" fill="none" stroke="#7a4cb0" stroke-width="0.8"/>
<circle cx="263.5" cy="851" r="3.6" fill="none" stroke="#3aa8d8" stroke-width="1"/><circle cx="280" cy="855.7" r="3.6" fill="none" stroke="#3aa8d8" stroke-width="1"/><circle cx="273.3" cy="862" r="3.3" fill="none" stroke="#3aa8d8" stroke-width="1"/>
<circle cx="302.7" cy="850" r="3.6" fill="#f08d0c"/><circle cx="299" cy="862" r="3.3" fill="none" stroke="#a05a00" stroke-width="0.8"/><circle cx="308" cy="862" r="3.3" fill="none" stroke="#a05a00" stroke-width="0.8"/>
</g>
<g stroke="#666" stroke-width="1.2" fill="none">
<path d="M124.3,845.7V840.7H154.3V845"/>
<path d="M124.3,827.7V822.7H183.7V846.7"/>
<path d="M124.3,809V804H213.7V845"/>
<path d="M124.3,790V785H243.3V841.7"/>
<path d="M124.3,772.7V767.7H273.3V835"/>
<path d="M124.3,755V750H302.7V835"/>
</g>
<g font-size="10" fill="#555" text-anchor="middle">
<text x="139.3" y="835">ns</text><text x="154" y="817">ns</text><text x="169" y="798">ns</text><text x="184" y="779.5">ns</text><text x="199.3" y="762">ns</text><text x="214.3" y="744.5">ns</text>
</g>
<circle cx="336" cy="796" r="3.6" fill="#111"/>
<circle cx="336" cy="811.7" r="3.6" fill="#f2336f"/>
<circle cx="336" cy="826.7" r="3.6" fill="#168c88"/>
<circle cx="336" cy="842.3" r="3.6" fill="#4e1f8c"/>
<circle cx="336" cy="857.3" r="3.6" fill="#b883f3"/>
<circle cx="336" cy="872.7" r="3.6" fill="#72d3f6"/>
<circle cx="336" cy="888.3" r="3.6" fill="#f08d0c"/>
<g font-size="11.5" font-weight="bold" fill="#222">
<text x="351.7" y="800">PBS</text><text x="351.7" y="815.7">5 mg/kg</text><text x="351.7" y="830.7">10 mg/kg</text><text x="351.7" y="846.3">25 mg/kg</text><text x="351.7" y="861.3">50 mg/kg</text><text x="351.7" y="876.7">100 mg/kg</text><text x="351.7" y="892.3">200 mg/kg</text>
</g>
</g>

<!-- ================= PANEL F ================= -->
<g>
<!-- Tot Prot -->
<rect x="530" y="820.75" width="125" height="43.65" fill="#e8e8e8"/>
<path d="M530,820.75H655M530,864.4H655" stroke="#c4c4c4" stroke-width="0.8" stroke-dasharray="3,2"/>
<path d="M530,738.3V932.3H655" stroke="#555" stroke-width="1.5" fill="none"/>
<path d="M524.5,738.3h5.5M524.5,786.8h5.5M524.5,835.3h5.5M524.5,883.8h5.5M524.5,932.3h5.5M591.7,932.3v5" stroke="#555" stroke-width="1.2"/>
<g font-size="13" fill="#444" text-anchor="end">
<text x="522" y="743">10</text><text x="522" y="791.5">8</text><text x="522" y="840">6</text><text x="522" y="888.5">4</text><text x="522" y="937">2</text>
</g>
<text transform="translate(500,835) rotate(-90)" font-size="13" font-weight="bold" fill="#222" text-anchor="middle">g/dL</text>
<text x="591.7" y="959" font-size="17.5" font-weight="bold" fill="#222" text-anchor="middle">Tot Prot</text>
<!-- BUN -->
<rect x="710.7" y="745.5" width="125" height="134.4" fill="#e8e8e8"/>
<path d="M710.7,745.5H835.7M710.7,879.9H835.7" stroke="#c4c4c4" stroke-width="0.8" stroke-dasharray="3,2"/>
<path d="M710.7,740.7V932.7H835.7" stroke="#555" stroke-width="1.5" fill="none"/>
<path d="M705.2,740.7h5.5M705.2,788.7h5.5M705.2,836.7h5.5M705.2,884.7h5.5M705.2,932.7h5.5M773.3,932.7v5" stroke="#555" stroke-width="1.2"/>
<g font-size="13" fill="#444" text-anchor="end">
<text x="703" y="745.5">40</text><text x="703" y="793.5">30</text><text x="703" y="841.5">20</text><text x="703" y="889.5">10</text><text x="703" y="937.5">0</text>
</g>
<text transform="translate(681,835) rotate(-90)" font-size="13" font-weight="bold" fill="#222" text-anchor="middle">mg/dL</text>
<text x="773.3" y="959" font-size="17.5" font-weight="bold" fill="#222" text-anchor="middle">BUN</text>
<!-- boxes Tot Prot -->
<g stroke-width="1">
<rect x="534.5" y="818.3" width="12.5" height="14.6" fill="#5f5f5f" fill-opacity="0.85" stroke="#3a3a3a"/>
<rect x="551" y="854.7" width="12.5" height="8.5" fill="#f2679a" fill-opacity="0.8" stroke="#e0457d"/>
<rect x="568.7" y="846.2" width="12.5" height="10.9" fill="#3aa9a6" fill-opacity="0.75" stroke="#1d8a87"/>
<rect x="585.5" y="864.4" width="12.5" height="2.4" fill="#7a4fb0" stroke="#5a3290"/>
<rect x="602.7" y="847.4" width="12.5" height="14.6" fill="#d2abf8" fill-opacity="0.8" stroke="#bb8eea"/>
<rect x="620.4" y="847.4" width="12.5" height="13.4" fill="#b3e4f8" fill-opacity="0.85" stroke="#92d4f0"/>
<rect x="637.7" y="846.2" width="12.5" height="17" fill="#eda33c" fill-opacity="0.85" stroke="#d98a1e"/>
</g>
<path d="M534.5,826.8h12.5M551,859.55h12.5M568.7,852.3h12.5M602.7,854.7h12.5M620.4,854.7h12.5M637.7,854.7h12.5" stroke-width="1" stroke="#444" stroke-opacity="0.5"/>
<!-- boxes BUN -->
<g stroke-width="1">
<rect x="715.4" y="783.9" width="12.5" height="67.2" fill="#5f5f5f" fill-opacity="0.85" stroke="#3a3a3a"/>
<rect x="733.7" y="827.1" width="12.5" height="4.8" fill="#f2679a" fill-opacity="0.85" stroke="#e0457d"/>
<rect x="749.7" y="817.5" width="12.5" height="28.8" fill="#3aa9a6" fill-opacity="0.75" stroke="#1d8a87"/>
<rect x="767" y="822.3" width="12.5" height="9.6" fill="#7a4fb0" fill-opacity="0.85" stroke="#5a3290"/>
<rect x="783.7" y="836.7" width="12.5" height="19.2" fill="#d2abf8" fill-opacity="0.8" stroke="#bb8eea"/>
<rect x="800.4" y="841.5" width="12.5" height="19.2" fill="#b3e4f8" fill-opacity="0.85" stroke="#92d4f0"/>
<rect x="817.7" y="812.7" width="12.5" height="28.8" fill="#eda33c" fill-opacity="0.85" stroke="#d98a1e"/>
</g>
<path d="M715.4,810.3h12.5M749.7,831.9h12.5M767,827.1h12.5M783.7,848.7h12.5M800.4,851.1h12.5M817.7,823.3h12.5" stroke-width="1" stroke="#333" stroke-opacity="0.5"/>
<!-- legend F -->
<g stroke-width="1">
<rect x="857.7" y="793.8" width="20.7" height="9" fill="#5f5f5f" fill-opacity="0.85" stroke="#3a3a3a"/>
<rect x="857.7" y="810.5" width="20.7" height="9" fill="#f2679a" fill-opacity="0.8" stroke="#e0457d"/>
<rect x="857.7" y="827.8" width="20.7" height="9" fill="#3aa9a6" fill-opacity="0.75" stroke="#1d8a87"/>
<rect x="857.7" y="843.8" width="20.7" height="9" fill="#7a4fb0" fill-opacity="0.85" stroke="#5a3290"/>
<rect x="857.7" y="859.8" width="20.7" height="9" fill="#d2abf8" fill-opacity="0.8" stroke="#bb8eea"/>
<rect x="857.7" y="876.2" width="20.7" height="9" fill="#b3e4f8" fill-opacity="0.85" stroke="#92d4f0"/>
<rect x="857.7" y="892.8" width="20.7" height="9" fill="#eda33c" fill-opacity="0.85" stroke="#d98a1e"/>
</g>
<g font-size="12" font-weight="bold" fill="#222">
<text x="890" y="803">PBS</text><text x="890" y="819.5">5 mg/kg</text><text x="890" y="836.8">10 mg/kg</text><text x="890" y="852.8">25 mg/kg</text><text x="890" y="868.8">50 mg/kg</text><text x="890" y="885.2">100 mg/kg</text><text x="890" y="901.8">200 mg/kg</text>
</g>
</g>

<!-- ================= PANEL G ================= -->
<g>
<!-- ALP -->
<rect x="189" y="1042.7" width="124.3" height="131.1" fill="#e8e8e8"/>
<path d="M189,1042.7H313.3M189,1173.8H313.3" stroke="#c4c4c4" stroke-width="0.8" stroke-dasharray="3,2"/>
<path d="M189,997.7V1185H313.3" stroke="#555" stroke-width="1.5" fill="none"/>
<path d="M183.5,997.7h5.5M183.5,1035.2h5.5M183.5,1072.6h5.5M183.5,1110.1h5.5M183.5,1147.5h5.5M183.5,1185h5.5M250.7,1185v5" stroke="#555" stroke-width="1.2"/>
<g font-size="12.5" fill="#444" text-anchor="end">
<text x="181" y="1002">250</text><text x="181" y="1039.5">200</text><text x="181" y="1077">150</text><text x="181" y="1114.5">100</text><text x="181" y="1152">50</text><text x="181" y="1189.5">0</text>
</g>
<text transform="translate(147,1090) rotate(-90)" font-size="13" font-weight="bold" fill="#222" text-anchor="middle">U/L</text>
<text x="250.7" y="1211" font-size="18" font-weight="bold" fill="#222" text-anchor="middle">ALP</text>
<g stroke-width="1">
<rect x="194.2" y="1093.6" width="11.5" height="50.2" fill="#5f5f5f" fill-opacity="0.85" stroke="#3a3a3a"/>
<rect x="211.5" y="1092.1" width="11.5" height="46.4" fill="#f2679a" fill-opacity="0.8" stroke="#e0457d"/>
<rect x="227.5" y="1097.3" width="11.5" height="31.5" fill="#3aa9a6" fill-opacity="0.75" stroke="#1d8a87"/>
<rect x="245.9" y="1084.6" width="11.5" height="56.9" fill="#7a4fb0" fill-opacity="0.8" stroke="#5a3290"/>
<rect x="262.5" y="1105.6" width="11.5" height="16.5" fill="#d2abf8" fill-opacity="0.8" stroke="#bb8eea"/>
<rect x="279.2" y="1107.8" width="11.5" height="19.5" fill="#b3e4f8" fill-opacity="0.85" stroke="#92d4f0"/>
<rect x="296.9" y="1130.3" width="11.5" height="7.5" fill="#eda33c" fill-opacity="0.85" stroke="#d98a1e"/>
</g>
<path d="M194.2,1121.3h11.5M211.5,1110.1h11.5M227.5,1112.3h11.5M245.9,1113.8h11.5M262.5,1112.3h11.5M279.2,1119.1h11.5M296.9,1134.1h11.5" stroke-width="1" stroke="#333" stroke-opacity="0.5"/>
<!-- ALT -->
<rect x="393.3" y="1056.4" width="123.4" height="111.1" fill="#e8e8e8"/>
<path d="M393.3,1056.4H516.7M393.3,1167.5H516.7" stroke="#c4c4c4" stroke-width="0.8" stroke-dasharray="3,2"/>
<path d="M393.3,997.7V1185H516.7" stroke="#555" stroke-width="1.5" fill="none"/>
<path d="M387.8,997.7h5.5M387.8,1060.1h5.5M387.8,1122.6h5.5M387.8,1185h5.5M455,1185v5" stroke="#555" stroke-width="1.2"/>
<g font-size="12.5" fill="#444" text-anchor="end">
<text x="385" y="1002">150</text><text x="385" y="1064.5">100</text><text x="385" y="1127">50</text><text x="385" y="1189.5">0</text>
</g>
<text transform="translate(351,1090) rotate(-90)" font-size="13" font-weight="bold" fill="#222" text-anchor="middle">U/L</text>
<text x="455" y="1211" font-size="18" font-weight="bold" fill="#222" text-anchor="middle">ALT</text>
<g stroke-width="1">
<rect x="398.5" y="1118.8" width="11.5" height="18.7" fill="#5f5f5f" fill-opacity="0.85" stroke="#3a3a3a"/>
<rect x="414.9" y="1140" width="11.5" height="7.5" fill="#f2679a" fill-opacity="0.85" stroke="#e0457d"/>
<rect x="431.5" y="1132.6" width="11.5" height="13.7" fill="#3aa9a6" fill-opacity="0.75" stroke="#1d8a87"/>
<rect x="449.2" y="1150" width="11.5" height="2.5" fill="#7a4fb0" stroke="#5a3290"/>
<rect x="466.9" y="1138.8" width="11.5" height="12.5" fill="#d2abf8" fill-opacity="0.8" stroke="#bb8eea"/>
<rect x="482.5" y="1143.8" width="11.5" height="5" fill="#b3e4f8" fill-opacity="0.85" stroke="#92d4f0"/>
<rect x="499.2" y="1145" width="11.5" height="6.3" fill="#eda33c" fill-opacity="0.85" stroke="#d98a1e"/>
</g>
<path d="M398.5,1125.1h11.5M431.5,1140h11.5M466.9,1146.3h11.5M499.2,1148.8h11.5" stroke-width="1" stroke="#333" stroke-opacity="0.5"/>
<!-- AST -->
<rect x="613.3" y="1074.1" width="127.4" height="100.5" fill="#e8e8e8"/>
<path d="M613.3,1074.1H740.7M613.3,1174.6H740.7" stroke="#c4c4c4" stroke-width="0.8" stroke-dasharray="3,2"/>
<path d="M613.3,991V1184.3H740.7" stroke="#555" stroke-width="1.5" fill="none"/>
<path d="M607.8,991h5.5M607.8,1029.7h5.5M607.8,1068.3h5.5M607.8,1107h5.5M607.8,1145.6h5.5M607.8,1184.3h5.5M676,1184.3v5" stroke="#555" stroke-width="1.2"/>
<g font-size="12.5" fill="#444" text-anchor="end">
<text x="605" y="995.5">1000</text><text x="605" y="1034">800</text><text x="605" y="1072.8">600</text><text x="605" y="1111.5">400</text><text x="605" y="1150">200</text><text x="605" y="1188.8">0</text>
</g>
<text transform="translate(559,1090) rotate(-90)" font-size="13" font-weight="bold" fill="#222" text-anchor="middle">U/L</text>
<text x="676" y="1211" font-size="18" font-weight="bold" fill="#222" text-anchor="middle">AST</text>
<g stroke-width="1">
<rect x="617.8" y="1037.4" width="12.5" height="116" fill="#5f5f5f" fill-opacity="0.85" stroke="#3a3a3a"/>
<rect x="635.5" y="1123.4" width="12.5" height="25.1" fill="#f2679a" fill-opacity="0.8" stroke="#e0457d"/>
<rect x="652.8" y="1112.8" width="12.5" height="33.8" fill="#3aa9a6" fill-opacity="0.75" stroke="#1d8a87"/>
<rect x="670.5" y="1145.6" width="12.5" height="11.6" fill="#7a4fb0" fill-opacity="0.8" stroke="#5a3290"/>
<rect x="688.1" y="1100.2" width="12.5" height="38.7" fill="#d2abf8" fill-opacity="0.8" stroke="#bb8eea"/>
<rect x="704.8" y="1124.4" width="12.5" height="33.8" fill="#b3e4f8" fill-opacity="0.85" stroke="#92d4f0"/>
<rect x="723.1" y="1127.3" width="12.5" height="23.2" fill="#eda33c" fill-opacity="0.85" stroke="#d98a1e"/>
</g>
<path d="M617.8,1112.8h12.5M635.5,1136h12.5M652.8,1132.1h12.5M670.5,1149.5h12.5M688.1,1124.4h12.5M704.8,1143.7h12.5M723.1,1134h12.5" stroke-width="1" stroke="#333" stroke-opacity="0.5"/>
<!-- legend G -->
<g stroke-width="1">
<rect x="761.7" y="1046.5" width="20" height="9" fill="#5f5f5f" fill-opacity="0.85" stroke="#3a3a3a"/>
<rect x="761.7" y="1062.2" width="20" height="9" fill="#f2679a" fill-opacity="0.8" stroke="#e0457d"/>
<rect x="761.7" y="1078.8" width="20" height="9" fill="#3aa9a6" fill-opacity="0.75" stroke="#1d8a87"/>
<rect x="761.7" y="1095.5" width="20" height="9" fill="#7a4fb0" fill-opacity="0.85" stroke="#5a3290"/>
<rect x="761.7" y="1112.2" width="20" height="9" fill="#d2abf8" fill-opacity="0.8" stroke="#bb8eea"/>
<rect x="761.7" y="1127.8" width="20" height="9" fill="#b3e4f8" fill-opacity="0.85" stroke="#92d4f0"/>
<rect x="761.7" y="1144.5" width="20" height="9" fill="#eda33c" fill-opacity="0.85" stroke="#d98a1e"/>
</g>
<g font-size="12" font-weight="bold" fill="#222">
<text x="793.3" y="1055.5">PBS</text><text x="793.3" y="1071.2">5 mg/kg</text><text x="793.3" y="1087.8">10 mg/kg</text><text x="793.3" y="1104.5">25 mg/kg</text><text x="793.3" y="1121.2">50 mg/kg</text><text x="793.3" y="1136.8">100 mg/kg</text><text x="793.3" y="1153.5">200 mg/kg</text>
</g>
</g>
</svg>
</body></html>
